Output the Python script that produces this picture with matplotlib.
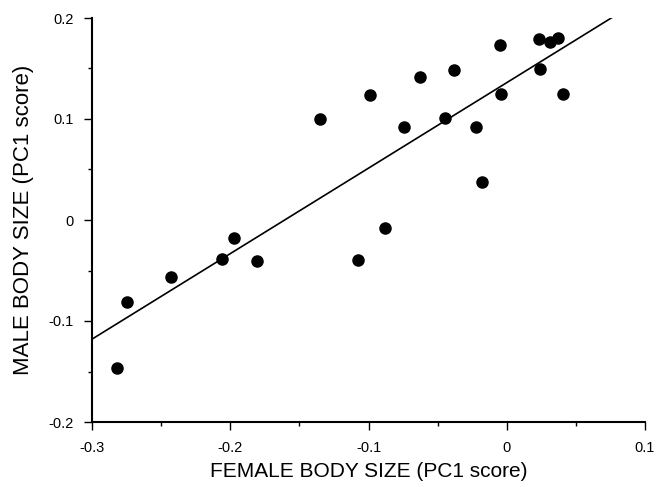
import matplotlib
matplotlib.use("Agg")
import matplotlib.pyplot as plt
import numpy as np
from matplotlib.ticker import MultipleLocator

female = [-0.282, -0.275, -0.243, -0.206, -0.197, -0.181, -0.135, -0.1075, -0.099,
          -0.088, -0.074, -0.063, -0.045, -0.038, -0.022, -0.018, -0.005, -0.004,
          0.023, 0.024, 0.031, 0.037, 0.041]
male = [-0.147, -0.081, -0.056, -0.039, -0.018, -0.041, 0.100, -0.040, 0.124,
        -0.008, 0.092, 0.142, 0.101, 0.149, 0.092, 0.038, 0.173, 0.125,
        0.179, 0.150, 0.176, 0.180, 0.125]
fit_x = [-0.3, 0.0766]
fit_slope = 0.8466
fit_intercept = 0.136

xticks = [-0.3, -0.2, -0.1, 0, 0.1]
xticklabels = ["-0.3", "-0.2", "-0.1", "0", "0.1"]
yticks = [-0.2, -0.1, 0, 0.1, 0.2]
yticklabels = ["-0.2", "-0.1", "0", "0.1", "0.2"]

plt.rcParams['font.family'] = ['Liberation Sans', 'DejaVu Sans']

fig = plt.figure(figsize=(6.64, 4.87), dpi=100)
ax = fig.add_axes([92/664, 1-422/487, (645-92)/664, (422-18)/487])

fx = np.array(fit_x)
ax.plot(fx, fit_slope*fx + fit_intercept, color='black', lw=1.2, zorder=2)
ax.plot(female, male, 'o', color='black', markersize=8, zorder=3)

ax.set_xlim(-0.3, 0.1)
ax.set_ylim(-0.2, 0.2)
ax.set_xticks(xticks)
ax.set_xticklabels(xticklabels)
ax.set_yticks(yticks)
ax.set_yticklabels(yticklabels)
ax.xaxis.set_minor_locator(MultipleLocator(0.05))
ax.yaxis.set_minor_locator(MultipleLocator(0.05))
ax.tick_params(which='major', direction='out', length=5.5, width=1, labelsize=10.5)
ax.tick_params(which='minor', direction='out', length=3, width=1)
ax.tick_params(axis='x', pad=8)
ax.tick_params(axis='y', pad=8)

for s in ['top', 'right']:
    ax.spines[s].set_visible(False)
for s in ['left', 'bottom']:
    ax.spines[s].set_linewidth(1.5)

ax.set_xlabel("FEMALE BODY SIZE (PC1 score)", fontsize=15, labelpad=5)
ax.set_ylabel("MALE BODY SIZE (PC1 score)", fontsize=16, labelpad=10)

fig.savefig("out.png", dpi=100)
